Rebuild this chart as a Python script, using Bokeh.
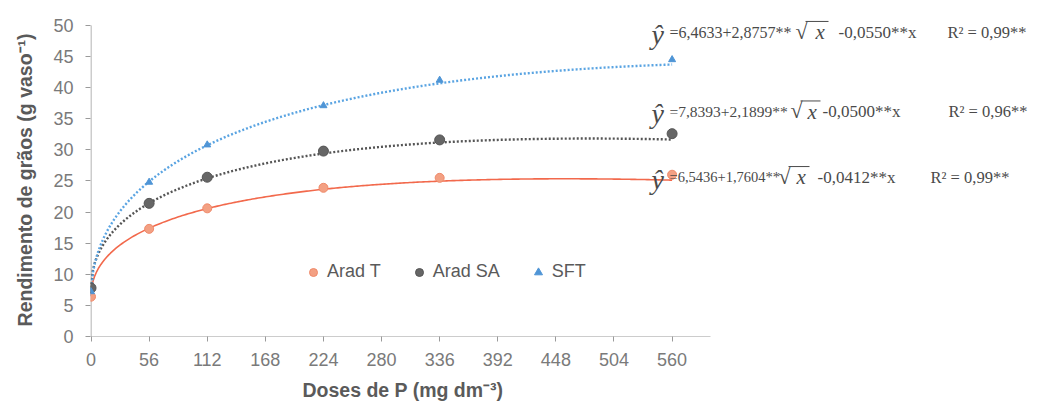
import numpy as np
from bokeh.plotting import figure
from bokeh.models import Range1d, Legend, LegendItem, Label, FixedTicker, Title
from bokeh.embed import file_html
from bokeh.resources import INLINE

# ---------------- data ----------------
doses = [0, 56, 112, 224, 336, 560]
arad_t = [6.4, 17.3, 20.6, 23.9, 25.5, 26.0]
arad_sa = [7.8, 21.4, 25.6, 29.8, 31.6, 32.6]
sft = [7.2, 24.8, 30.8, 37.1, 41.2, 44.5]

series_names = ["Arad T", "Arad SA", "SFT"]
# fitted model y = a + b*sqrt(x) - c*x, as printed in the chart
coef_a = [6.5436, 7.8393, 6.4633]
coef_b = [1.7604, 2.1899, 2.8757]
coef_c = [0.0412, 0.0500, 0.0550]
r2_text = ["0,99**", "0,96**", "0,99**"]
eq_first = ["=6,5436+1,7604**", "=7,8393+2,1899**", "=6,4633+2,8757**"]
eq_lin = ["-0,0412**x", "-0,0500**x", "-0,0550**x"]

x_ticks = [0, 56, 112, 168, 224, 280, 336, 392, 448, 504, 560]
y_ticks = [0, 5, 10, 15, 20, 25, 30, 35, 40, 45, 50]
x_title = "Doses de P (mg dm\u207b\u00b3)"
y_title = "Rendimento de grãos (g vaso\u207b\u00b9)"

# ---------------- layout constants (canvas pixels) ----------------
W, H = 1044, 408
FL, FB = 90, 338              # frame left / bottom
Y50_PX = 25                   # pixel row of y = 50
FT = 12                       # frame top (a bit above 50 so equations are not clipped)
AXIS_END_PX = 710             # visible end of the x axis line
FR = 1040                     # frame extends right so equations are not clipped
X0 = -0.5
UNITS_PER_PX = 597.5 / 620.0
X1 = X0 + (FR - FL) * UNITS_PER_PX
PX_PER_Y = (FB - Y50_PX) / 50.0
Y0 = 0.0
Y1 = 50.0 + (Y50_PX - FT) / PX_PER_Y
Y_AXIS_TOP = 50


def px2x(px):
    return X0 + (px - FL) * UNITS_PER_PX


def py2y(py):
    return Y0 + (FB - py) / PX_PER_Y


p = figure(width=W, height=H, output_backend="svg", toolbar_location=None,
           x_range=Range1d(X0, X1), y_range=Range1d(Y0, Y1),
           min_border_left=FL, min_border_right=W - FR,
           min_border_top=FT, min_border_bottom=H - FB)
p.outline_line_color = None
p.xgrid.grid_line_color = None
p.ygrid.grid_line_color = None
p.background_fill_color = "white"
p.border_fill_color = "white"

TICK_FONT = "Liberation Sans"
AX_COLOR = "#9a9a9a"
TITLE_COLOR = "#5a5a5a"
for ax in (p.xaxis[0], p.yaxis[0]):
    ax.axis_line_color = None
    ax.major_tick_line_color = AX_COLOR
    ax.minor_tick_line_color = None
    ax.major_tick_in = 0
    ax.major_tick_out = 5
    ax.major_label_text_font = TICK_FONT
    ax.major_label_text_font_size = "18px"
    ax.major_label_text_color = "#7a7a7a"
    ax.axis_label_text_font = TICK_FONT
    ax.axis_label_text_font_style = "bold"
    ax.axis_label_text_font_size = "19.5px"
    ax.axis_label_text_color = TITLE_COLOR

p.xaxis.ticker = FixedTicker(ticks=x_ticks)
p.yaxis.ticker = FixedTicker(ticks=y_ticks)
p.xaxis.major_label_standoff = 11
p.yaxis.major_label_standoff = 12
# trailing no-break spaces shift the rotated title down to the original centre
p.yaxis.axis_label = y_title + "\u00a0\u00a0"
p.yaxis.axis_label_standoff = 14

# x axis title, centred under the visible part of the axis
xt = Title(text=x_title, align="left", offset=212, standoff=16,
           text_font=TICK_FONT, text_font_size="19.5px",
           text_font_style="bold", text_color=TITLE_COLOR)
p.add_layout(xt, "below")

# visible axis lines, ending like the original
p.segment(x0=[X0 - 3], y0=[0], x1=[px2x(AXIS_END_PX)], y1=[0],
          line_color=AX_COLOR, line_width=1)
p.segment(x0=[px2x(FL + 0.5)], y0=[0], x1=[px2x(FL + 0.5)], y1=[Y_AXIS_TOP],
          line_color=AX_COLOR, line_width=1)

# ---------------- curves ----------------
xc = np.linspace(0, 560, 300)
line_colors = ["#f2694c", "#555555", "#5aa4e2"]
line_dash = ["solid", "2 2", "2 2"]
line_width = [1.6, 2.4, 2.4]
for i in range(3):
    yc = coef_a[i] + coef_b[i] * np.sqrt(xc) - coef_c[i] * xc
    p.line(xc, yc, line_color=line_colors[i], line_dash=line_dash[i],
           line_width=line_width[i])

# ---------------- points ----------------
r_t = p.scatter(doses, arad_t, marker="circle", size=9, fill_color="#f3a083",
                line_color="#f08a6a")
r_sa = p.scatter(doses, arad_sa, marker="circle", size=10, fill_color="#666666",
                 line_color="#555555")
r_sft = p.scatter(doses, sft, marker="triangle", size=7, fill_color="#4f95d6",
                  line_color="#4f95d6")

legend = Legend(items=[LegendItem(label=series_names[0], renderers=[r_t]),
                       LegendItem(label=series_names[1], renderers=[r_sa]),
                       LegendItem(label=series_names[2], renderers=[r_sft])],
                orientation="horizontal", location=(213, 54))
legend.border_line_color = None
legend.background_fill_alpha = 0
legend.padding = 0
legend.margin = 0
legend.spacing = 28
legend.glyph_width = 20
legend.glyph_height = 20
legend.label_height = 20
legend.label_standoff = 4
legend.label_text_font = TICK_FONT
legend.label_text_font_size = "18px"
legend.label_text_color = TITLE_COLOR
legend.label_text_baseline = "middle"
p.add_layout(legend)

# ---------------- equations ----------------
eq_rows_py = [178, 112, 32]        # vertical centres, per series
first_size = ["14.5px", "15.5px", "16px"]
sqrt_px = [778, 790, 795]
xvar_px = [796, 807, 815]
lin_px = [817, 822, 838]
r2_px = [930, 948, 947]
SERIF = "Liberation Serif"
EQC = "#4a4a4a"


def add_label(px, py, text, size, style="normal"):
    p.add_layout(Label(x=px2x(px), y=py2y(py), text=text,
                       text_font=SERIF, text_font_size=size,
                       text_font_style=style, text_color=EQC,
                       text_baseline="middle", text_align="left"))


bar_x0, bar_x1, bar_y = [], [], []
for i in range(3):
    py = eq_rows_py[i]
    add_label(651, py + 2, "ŷ", "28px", "italic")
    add_label(669, py, eq_first[i], first_size[i])
    add_label(sqrt_px[i], py - 1, "\u221a", "22px")
    add_label(xvar_px[i], py, "x", "21px", "italic")
    add_label(lin_px[i], py, eq_lin[i], "17px")
    add_label(r2_px[i], py, "R\u00b2 = " + r2_text[i], "16.5px")
    bar_x0.append(px2x(sqrt_px[i] + 10))
    bar_x1.append(px2x(xvar_px[i] + 13))
    bar_y.append(py2y(py - 11))

# vinculum of the square roots
p.segment(x0=bar_x0, y0=bar_y, x1=bar_x1, y1=bar_y, line_color=EQC, line_width=1)

open("out.html", "w").write(file_html(p, INLINE))
